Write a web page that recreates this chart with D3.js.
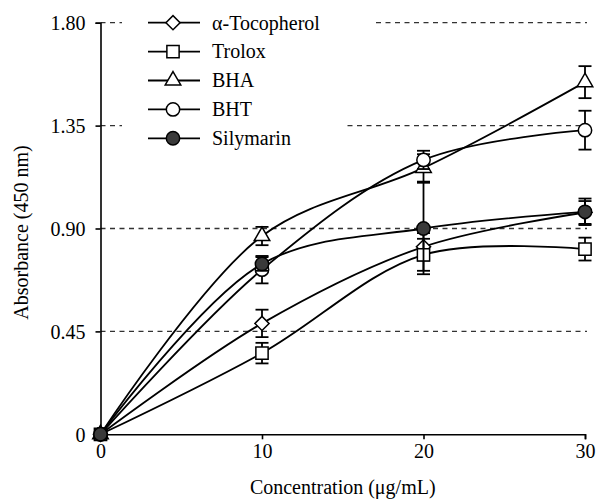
<!DOCTYPE html>
<html>
<head>
<meta charset="utf-8">
<script src="https://cdn.jsdelivr.net/npm/d3@7"></script>
<style>
  body { margin: 0; background: #fff; }
  text { font-family: "Liberation Serif", "Times New Roman", serif; }
</style>
</head>
<body>
<div id="chart"></div>
<script>
// chart data
const concentrations = [0, 10, 20, 30];
const seriesNames = ["α-Tocopherol", "Trolox", "BHA", "BHT", "Silymarin"];
const tocopherol = [0, 0.485, 0.82, 0.97];
const tocopherolErr = [0, 0.06, 0.06, 0.05];
const trolox = [0, 0.355, 0.785, 0.81];
const troloxErr = [0, 0.045, 0.07, 0.05];
const bha = [0, 0.867, 1.165, 1.54];
const bhaErr = [0, 0.04, 0.06, 0.07];
const bht = [0, 0.72, 1.2, 1.33];
const bhtErr = [0, 0.06, 0.04, 0.085];
const silymarin = [0, 0.745, 0.90, 0.973];
const silymarinErr = [0, 0.03, 0.2, 0.058];
const yTicks = [0, 0.45, 0.90, 1.35, 1.80];
const yTickLabels = ["0", "0.45", "0.90", "1.35", "1.80"];
const xTicks = [0, 10, 20, 30];

const width = 602, height = 499;

const svg = d3.select("#chart")
  .append("svg")
    .attr("width", width)
    .attr("height", height);

const x = d3.scaleLinear().domain([0, 30]).range([100.5, 585]);
const y = d3.scaleLinear().domain([0, 1.8]).range([434.3, 22.7]);

// one entry per series: values, errors and marker style
const series = [
  {name: seriesNames[0], values: tocopherol, err: tocopherolErr, shape: "diamond", fill: "#fff"},
  {name: seriesNames[1], values: trolox, err: troloxErr, shape: "square", fill: "#fff"},
  {name: seriesNames[2], values: bha, err: bhaErr, shape: "triangle", fill: "#fff"},
  {name: seriesNames[3], values: bht, err: bhtErr, shape: "circle", fill: "#fff"},
  {name: seriesNames[4], values: silymarin, err: silymarinErr, shape: "circle", fill: "#3a3a3a"}
];

function symbolPath(shape) {
  if (shape === "diamond") return d3.symbol().type(d3.symbolSquare).size(100)();
  if (shape === "square") return d3.symbol().type(d3.symbolSquare).size(150)();
  if (shape === "triangle") return d3.symbol().type(d3.symbolTriangle).size(105)();
  return d3.symbol().type(d3.symbolCircle).size(140)();
}
function symbolRotate(shape) { return shape === "diamond" ? " rotate(45)" : ""; }

// dashed grid lines
const grid = svg.append("g");
grid.selectAll("line")
  .data(yTicks.slice(1))
  .join("line")
    .attr("x1", x(0))
    .attr("x2", 587)
    .attr("y1", d => y(d))
    .attr("y2", d => y(d))
    .attr("stroke", "#333")
    .attr("stroke-width", 1.3)
    .attr("stroke-dasharray", "5,4.5");

// axes
const yAxis = svg.append("g")
  .attr("transform", `translate(${x(0)},0)`)
  .call(d3.axisLeft(y).tickValues(yTicks).tickSizeOuter(0).tickSize(5)
    .tickFormat((d, i) => yTickLabels[i]));
const xAxis = svg.append("g")
  .attr("transform", `translate(0,${y(0)})`)
  .call(d3.axisBottom(x).tickValues(xTicks).tickSizeOuter(0).tickSize(5));

[xAxis, yAxis].forEach(a => {
  a.select(".domain").attr("stroke", "#000").attr("stroke-width", 1.6);
  a.selectAll(".tick line").attr("stroke", "#000").attr("stroke-width", 1.6);
  a.selectAll(".tick text")
    .attr("fill", "#000")
    .style("font-family", '"Liberation Serif", serif')
    .style("font-size", "20px");
});
yAxis.selectAll(".tick text").attr("x", -15).attr("dy", "0.34em");
xAxis.selectAll(".tick text").attr("y", 9).attr("dy", "0.76em");

svg.append("text")
  .attr("x", x(15))
  .attr("y", 494)
  .attr("text-anchor", "middle")
  .style("font-size", "20px")
  .text("Concentration (μg/mL)");

svg.append("text")
  .attr("transform", `translate(28,${(y(0) + y(1.8)) / 2 + 4}) rotate(-90)`)
  .attr("text-anchor", "middle")
  .style("font-size", "20px")
  .text("Absorbance (450 nm)");

// legend (white boxes hide the grid behind)
const legend = svg.append("g");
const legendRows = legend.selectAll("g")
  .data(series)
  .join("g")
    .attr("transform", (d, i) => `translate(0,${22.7 + i * 28.9})`);
const labels = legendRows.append("text")
  .attr("x", 212)
  .attr("dy", "0.34em")
  .style("font-size", "20px")
  .text(d => d.name);
legendRows.insert("rect", "text")
  .attr("x", 122)
  .attr("y", -14.5)
  .attr("height", 29)
  .attr("width", function() {
    const t = d3.select(this.parentNode).select("text").node();
    return 212 + t.getComputedTextLength() + 56 - 122;
  })
  .attr("fill", "#fff");
legendRows.append("line")
  .attr("x1", 148).attr("x2", 200)
  .attr("stroke", "#000").attr("stroke-width", 1.8);
legendRows.append("path")
  .attr("d", d => symbolPath(d.shape))
  .attr("transform", d => `translate(173,0)` + symbolRotate(d.shape))
  .attr("fill", d => d.fill)
  .attr("stroke", "#000")
  .attr("stroke-width", 1.5);

// curves
const line = d3.line()
  .x((d, i) => x(concentrations[i]))
  .y(d => y(d))
  .curve(d3.curveCatmullRom.alpha(0.5));

const plot = svg.append("g");
plot.selectAll(".curve")
  .data(series)
  .join("path")
    .attr("class", "curve")
    .attr("d", d => line(d.values))
    .attr("fill", "none")
    .attr("stroke", "#000")
    .attr("stroke-width", 1.8);

// error bars and markers
series.forEach(s => {
  const g = plot.append("g");
  const pts = s.values.map((v, i) => ({x: concentrations[i], v: v, e: s.err[i]}));
  const bars = g.selectAll(".err")
    .data(pts.filter(p => p.e > 0))
    .join("g");
  bars.append("line")
    .attr("x1", p => x(p.x)).attr("x2", p => x(p.x))
    .attr("y1", p => y(p.v + p.e)).attr("y2", p => y(p.v - p.e))
    .attr("stroke", "#000").attr("stroke-width", 1.8);
  bars.selectAll(".cap")
    .data(p => [[p.x, p.v + p.e], [p.x, p.v - p.e]])
    .join("line")
      .attr("x1", c => x(c[0]) - 6.5).attr("x2", c => x(c[0]) + 6.5)
      .attr("y1", c => y(c[1])).attr("y2", c => y(c[1]))
      .attr("stroke", "#000").attr("stroke-width", 1.8);
  g.selectAll(".mark")
    .data(pts)
    .join("path")
      .attr("d", symbolPath(s.shape))
      .attr("transform", p => `translate(${x(p.x)},${y(p.v)})` + symbolRotate(s.shape))
      .attr("fill", s.fill)
      .attr("stroke", "#000")
      .attr("stroke-width", 1.5);
});
</script>
</body>
</html>
